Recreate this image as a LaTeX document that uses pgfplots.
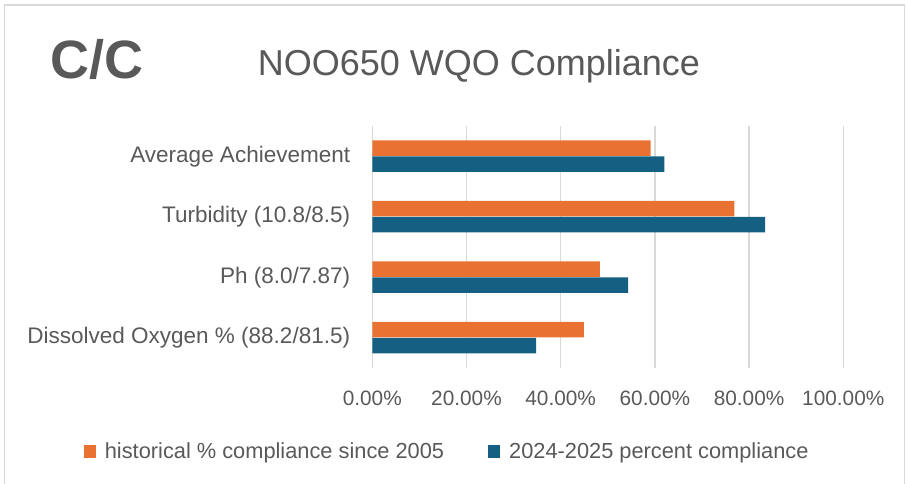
\documentclass[border=0pt]{standalone}
\usepackage{fontspec}
\setmainfont{Liberation Sans}
\usepackage{pgfplots}
\pgfplotsset{compat=1.18}
\definecolor{corange}{HTML}{E97132}
\definecolor{cblue}{HTML}{156082}
\definecolor{ctext}{HTML}{595959}
\definecolor{cgrid}{HTML}{D9D9D9}
\begin{document}
\begin{tikzpicture}[x=1pt,y=1pt]
\useasboundingbox (0,0) rectangle (906,484);
\draw[cgrid, line width=1.2pt] (4.5,-5) rectangle (904.5,479);
\node[font=\fontsize{54}{60}\selectfont\bfseries, text=ctext, anchor=west, inner sep=0pt] at (50,425) {C/C};
\node[font=\fontsize{36}{40}\selectfont, text=ctext, inner sep=0pt] at (479,418) {NOO650 WQO Compliance};
\begin{axis}[
  at={(372.3pt,116pt)}, anchor=south west,
  scale only axis, width=471pt, height=242pt,
  xbar, bar width=15.5pt,
  xmin=0, xmax=1, ymin=-0.5, ymax=3.5, y dir=reverse,
  ytick={0,1,2,3},
  yticklabels={Average Achievement, Turbidity (10.8/8.5), Ph (8.0/7.87), Dissolved Oxygen \% (88.2/81.5)},
  xtick={0,0.2,0.4,0.6,0.8,1},
  xticklabels={0.00\%,20.00\%,40.00\%,60.00\%,80.00\%,100.00\%},
  xmajorgrids, grid style={cgrid, line width=1.3pt},
  axis line style={draw=none}, major tick length=0pt,
  xticklabel style={font=\fontsize{20.8}{24}\selectfont, text=ctext, anchor=center, yshift=-30pt},
  yticklabel style={font=\fontsize{22.5}{26}\selectfont, text=ctext, anchor=east, inner sep=0pt, xshift=-22pt},
  legend style={draw=none, fill=none, font=\fontsize{21.8}{24}\selectfont, text=ctext,
    at={(0.159,-0.343)}, anchor=center,
    /tikz/every odd column/.append style={column sep=7pt},
    /tikz/every even column/.append style={column sep=42pt}},
  legend columns=2,
  legend cell align=left,
  legend image code/.code={\fill (0pt,-6.5pt) rectangle (12pt,6.5pt);},
]
\addplot[fill=corange, draw=none, bar shift=8pt] coordinates {(0.591,0) (0.769,1) (0.483,2) (0.449,3)};
\addplot[fill=cblue, draw=none, bar shift=-8pt] coordinates {(0.620,0) (0.834,1) (0.543,2) (0.348,3)};
\legend{historical \% compliance since 2005, 2024-2025 percent compliance}
\end{axis}
\end{tikzpicture}
\end{document}
